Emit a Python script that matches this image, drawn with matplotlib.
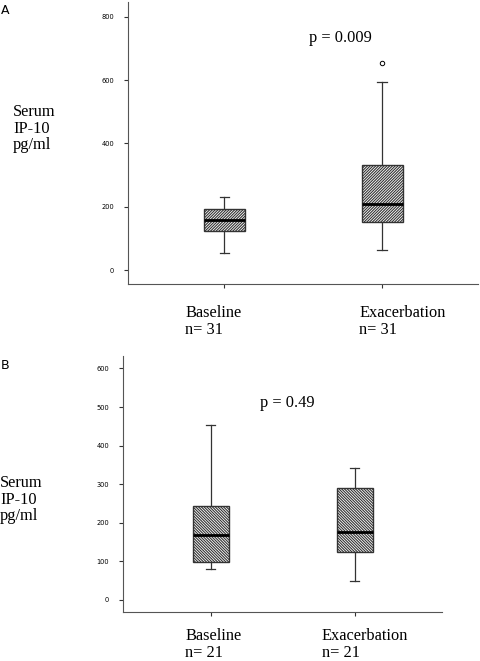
import matplotlib
matplotlib.use("Agg")
import matplotlib.pyplot as plt

# Donnees (pg/ml)
groupes = ["Baseline", "Exacerbation"]

# Panneau A (n = 31)
a_bas = [54, 65]
a_q1 = [122, 151]
a_med = [157, 208]
a_q3 = [192, 333]
a_haut = [230, 593]
a_outliers = [[], [653]]
a_n = [31, 31]
a_p = "p = 0.009"

# Panneau B (n = 21)
b_bas = [80, 49]
b_q1 = [98, 124]
b_med = [168, 177]
b_q3 = [243, 290]
b_haut = [454, 343]
b_outliers = [[], []]
b_n = [21, 21]
b_p = "p = 0.49"

plt.rcParams['hatch.linewidth'] = 0.8
plt.rcParams['hatch.color'] = '#222222'

W, H = 480, 661
fig = plt.figure(figsize=(W / 100, H / 100), dpi=100)


def px(x, y):
    return x / W, 1 - y / H


def panneau(rect, bas, q1, med, q3, haut, outliers, ylim, yticks, hatch, wbox):
    ax = fig.add_axes(rect)
    stats = []
    for i in range(len(groupes)):
        stats.append(dict(whislo=bas[i], q1=q1[i], med=med[i], q3=q3[i],
                          whishi=haut[i], fliers=outliers[i], label=groupes[i]))
    ax.bxp(stats, positions=[1, 2], widths=wbox, patch_artist=True,
           capwidths=0.06,
           boxprops=dict(facecolor='white', edgecolor='#333333', linewidth=1.0, hatch=hatch),
           medianprops=dict(color='black', linewidth=2),
           whiskerprops=dict(color='#333333', linewidth=0.9),
           capprops=dict(color='#333333', linewidth=0.9),
           flierprops=dict(marker='o', markersize=3.2, markerfacecolor='white',
                           markeredgecolor='black', markeredgewidth=0.7))
    ax.set_xlim(0.39, 2.607)
    ax.set_ylim(*ylim)
    ax.set_yticks(yticks)
    ax.set_xticks([1, 2])
    ax.set_xticklabels([])
    ax.spines['top'].set_visible(False)
    ax.spines['right'].set_visible(False)
    ax.spines['left'].set_color('#555555')
    ax.spines['bottom'].set_color('#555555')
    ax.tick_params(axis='y', labelsize=4.8, length=3, width=0.8, color='#333333', pad=7)
    ax.tick_params(axis='x', length=3, width=0.8, color='#333333')
    return ax


ax_a = panneau([*px(128, 284), 350 / W, 282 / H], a_bas, a_q1, a_med, a_q3, a_haut,
               a_outliers, (-44, 847), [0, 200, 400, 600, 800], '/' * 12, 0.26)
ax_b = panneau([*px(123, 612.3), 319 / W, 256.6 / H], b_bas, b_q1, b_med, b_q3, b_haut,
               b_outliers, (-32, 633), [0, 100, 200, 300, 400, 500, 600], '\\' * 12, 0.25)

serif = ['Liberation Serif', 'DejaVu Serif']

# Lettres des panneaux
fig.text(*px(1, 4), "A", fontsize=9, va='top', family='DejaVu Sans')
fig.text(*px(1, 359), "B", fontsize=9, va='top', family='DejaVu Sans')

# Titres de l'axe des ordonnees
fig.text(*px(13, 104), "Serum\nIP-10\npg/ml", fontsize=11.8, va='top',
         family=serif, linespacing=1.05)
fig.text(*px(0, 475), "Serum\nIP-10\npg/ml", fontsize=11.8, va='top',
         family=serif, linespacing=1.05)

# Valeurs p
fig.text(*px(340, 38), a_p, fontsize=11.8, ha='center', va='center', family=serif)
fig.text(*px(287, 403), b_p, fontsize=11.8, ha='center', va='center', family=serif)

# Etiquettes des groupes
for x, g, n in zip([185, 359], groupes, a_n):
    fig.text(*px(x, 305), f"{g}\nn= {n}", fontsize=11.8, va='top',
             family=serif, linespacing=1.05)
for x, g, n in zip([185, 322], groupes, b_n):
    fig.text(*px(x, 628), f"{g}\nn= {n}", fontsize=11.8, va='top',
             family=serif, linespacing=1.05)

fig.savefig("out.png", dpi=100)
